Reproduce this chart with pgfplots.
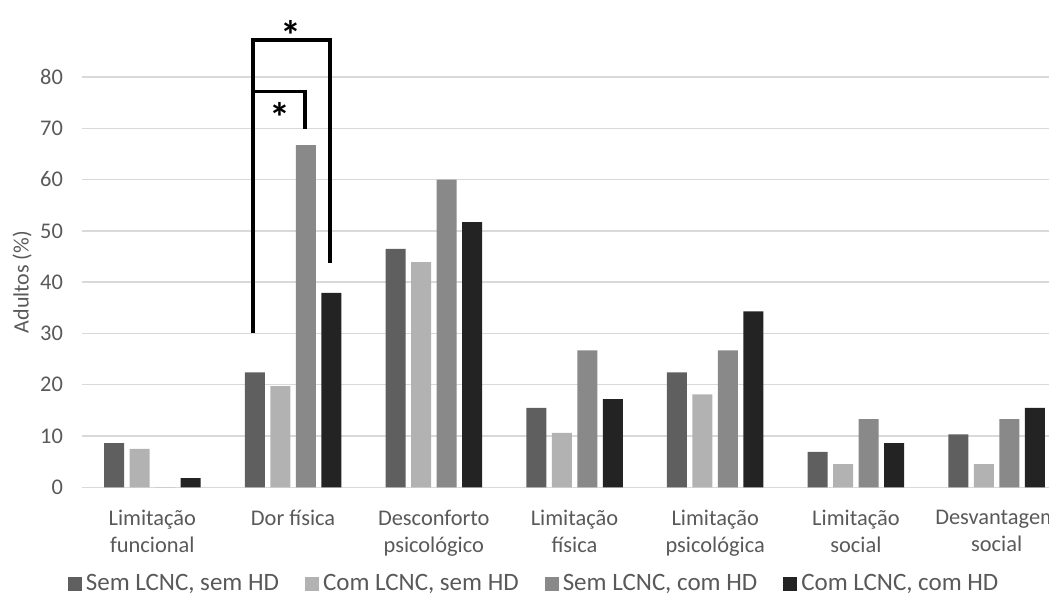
\documentclass[border=0pt]{standalone}
\usepackage{pgfplots}
\pgfplotsset{compat=1.18}
\usepackage{fontspec}
\setmainfont{Carlito}
\definecolor{cA}{HTML}{5F5F5F}
\definecolor{cB}{HTML}{B2B2B2}
\definecolor{cC}{HTML}{898989}
\definecolor{cD}{HTML}{232323}
\definecolor{ctxt}{HTML}{595959}
\definecolor{cgrid}{HTML}{D9D9D9}
\begin{document}
\begin{tikzpicture}
\begin{axis}[
  scale only axis, width=492.5pt, height=205.2pt,
  xmin=-0.5, xmax=6.5, ymin=0, ymax=80,
  ybar=2.75pt, bar width=10pt,
  clip=false,
  axis line style={draw=none},
  major tick length=0pt,
  ymajorgrids, grid style={cgrid, line width=0.7pt},
  ytick={0,10,...,80},
  xtick={0,1,2,3,4,5,6},
  xticklabels={{Limitação\\funcional},{Dor física},{Desconforto\\psicológico},{Limitação\\física},{Limitação\\psicológica},{Limitação\\social},{Desvantagem\\social}},
  xticklabel style={align=center, font=\fontsize{11.2}{13.5}\selectfont, text=ctxt, yshift=-8pt},
  yticklabel style={font=\fontsize{11.2}{13}\selectfont, text=ctxt, xshift=-6pt},
  /pgf/number format/assume math mode=true,
  ylabel={Adultos (\%)},
  ylabel style={at={(axis description cs:-0.0609,0.5)}, anchor=center, font=\fontsize{11}{13}\selectfont, text=ctxt},
  legend columns=4,
  legend style={at={(axis description cs:0.460,-0.236)}, anchor=center, draw=none, fill=none,
    font=\fontsize{12.5}{14}\selectfont, text=ctxt,
    /tikz/every even column/.append style={column sep=11pt}},
  legend image code/.code={\fill[#1] (0pt,-3.5pt) rectangle (7pt,3.5pt);},
]
\addplot[fill=cA, draw=none] coordinates {(0,8.6) (1,22.4) (2,46.5) (3,15.5) (4,22.4) (5,6.9) (6,10.3)};
\addplot[fill=cB, draw=none] coordinates {(0,7.5) (1,19.7) (2,43.9) (3,10.6) (4,18.1) (5,4.5) (6,4.5)};
\addplot[fill=cC, draw=none] coordinates {(0,0) (1,66.7) (2,60.0) (3,26.7) (4,26.7) (5,13.3) (6,13.3)};
\addplot[fill=cD, draw=none] coordinates {(0,1.8) (1,37.9) (2,51.7) (3,17.2) (4,34.3) (5,8.6) (6,15.5)};
\legend{Sem LCNC{,} sem HD, Com LCNC{,} sem HD, Sem LCNC{,} com HD, Com LCNC{,} com HD}
\draw[line width=1.6pt, black] (axis cs:0.715,30) -- (axis cs:0.715,87.2) -- (axis cs:1.263,87.2) -- (axis cs:1.263,43.8);
\draw[line width=1.6pt, black] (axis cs:0.715,77.2) -- (axis cs:1.085,77.2) -- (axis cs:1.085,69.8);
\node[font=\fontsize{21}{21}\bfseries\selectfont] at (axis cs:0.985,88.0) {*};
\node[font=\fontsize{21}{21}\bfseries\selectfont] at (axis cs:0.907,72.0) {*};
\end{axis}
\pgfresetboundingbox
\path[use as bounding box] (-41pt,-53.85pt) rectangle (483.5pt,243.65pt);
\end{tikzpicture}
\end{document}
